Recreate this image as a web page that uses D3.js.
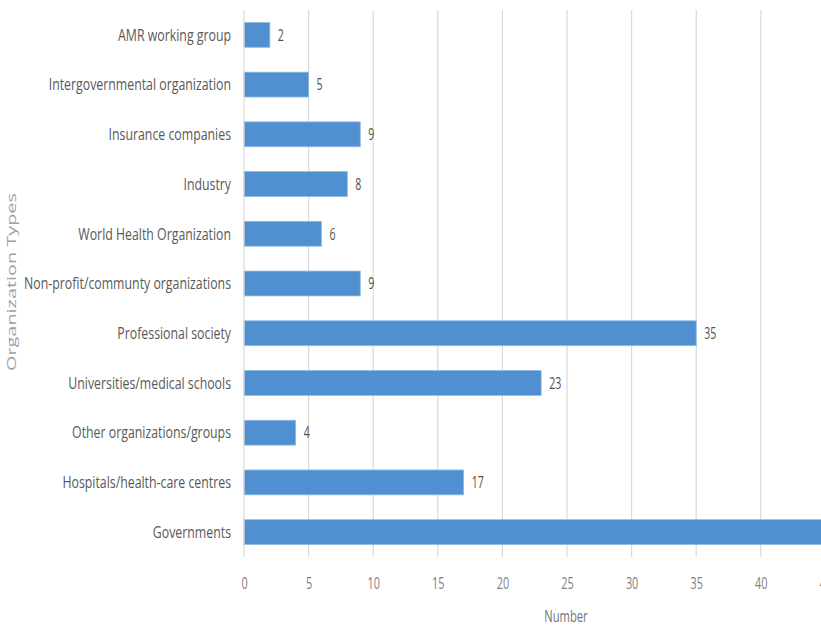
<!DOCTYPE html>
<html>
<head>
<meta charset="utf-8">
<script src="https://cdn.jsdelivr.net/npm/d3@7"></script>
<style>
  html, body { margin: 0; padding: 0; background: #fff; overflow: hidden; width: 821px; height: 627px; }
  svg { display: block; }
  text { font-family: "Open Sans", "DejaVu Sans", sans-serif; }
  .cat { font-size: 16px; fill: #595959; }
  .tick text { font-size: 16px; fill: #7f7f7f; }
  .val { font-size: 16px; fill: #505050; }
  .title { fill: #8c8c8c; }
</style>
</head>
<body>
<svg id="chart"></svg>
<script>
// Organization types, listed top to bottom
const categories = [
  "AMR working group",
  "Intergovernmental organization",
  "Insurance companies",
  "Industry",
  "World Health Organization",
  "Non-profit/communty organizations",
  "Professional society",
  "Universities/medical schools",
  "Other organizations/groups",
  "Hospitals/health-care centres",
  "Governments"
];
const counts = [2, 5, 9, 8, 6, 9, 35, 23, 4, 17, 47];
const xTicks = [0, 5, 10, 15, 20, 25, 30, 35, 40, 45, 50];

const W = 900, H = 627;
const margin = { top: 10, left: 244 };
const plotH = 547;

const svg = d3.select("#chart").attr("width", W).attr("height", H);
const g = svg.append("g").attr("transform", `translate(${margin.left},${margin.top})`);

const x = d3.scaleLinear().domain([0, 50]).range([0, 646]);
const y = d3.scaleBand().domain(categories).range([0, plotH]).paddingInner(0.5).paddingOuter(0.25);

// narrow the glyphs horizontally to get a condensed face
function condense(sel, k) {
  sel.each(function () {
    const len = this.getComputedTextLength();
    d3.select(this).attr("textLength", len * k).attr("lengthAdjust", "spacingAndGlyphs");
  });
}

// vertical gridlines
g.selectAll("line.grid").data(xTicks.slice(1)).join("line")
  .attr("class", "grid")
  .attr("x1", d => x(d)).attr("x2", d => x(d))
  .attr("y1", 0).attr("y2", plotH)
  .attr("stroke", "#d9d9d9").attr("stroke-width", 1.2);

// bars
g.selectAll("rect.bar").data(categories).join("rect")
  .attr("class", "bar")
  .attr("x", 0)
  .attr("y", d => y(d))
  .attr("width", (d, i) => x(counts[i]))
  .attr("height", y.bandwidth())
  .attr("fill", "#5190d0")
  .attr("stroke", "#8fbbe6").attr("stroke-width", 0.8);

// value labels
g.selectAll("text.val").data(categories).join("text")
  .attr("class", "val")
  .attr("x", (d, i) => x(counts[i]) + 8)
  .attr("y", d => y(d) + y.bandwidth() / 2)
  .attr("dy", "0.36em")
  .text((d, i) => counts[i])
  .call(condense, 0.66);

// category axis line
g.append("line")
  .attr("x1", 0).attr("x2", 0).attr("y1", 0).attr("y2", plotH)
  .attr("stroke", "#d9d9d9").attr("stroke-width", 1.2);

// category labels
g.selectAll("text.cat").data(categories).join("text")
  .attr("class", "cat")
  .attr("x", -13)
  .attr("y", d => y(d) + y.bandwidth() / 2)
  .attr("dy", "0.36em")
  .attr("text-anchor", "end")
  .text(d => d)
  .call(condense, 0.77);

// x axis labels
const xAxis = d3.axisBottom(x).tickValues(xTicks).tickSize(0).tickPadding(21);
const ax = g.append("g").attr("transform", `translate(0,${plotH})`).call(xAxis);
ax.select(".domain").remove();
ax.selectAll(".tick text").call(condense, 0.68);

// axis titles
svg.append("text").attr("class", "title")
  .attr("x", 566).attr("y", 622)
  .attr("text-anchor", "middle")
  .style("font-size", "16px")
  .style("fill", "#737373")
  .text("Number")
  .call(condense, 0.7);

svg.append("text").attr("class", "title")
  .attr("transform", `translate(16,282) rotate(-90)`)
  .attr("text-anchor", "middle")
  .style("font-size", "13px")
  .style("fill", "#a0a0a0")
  .attr("textLength", 178).attr("lengthAdjust", "spacingAndGlyphs")
  .text("Organization Types");
</script>
</body>
</html>
